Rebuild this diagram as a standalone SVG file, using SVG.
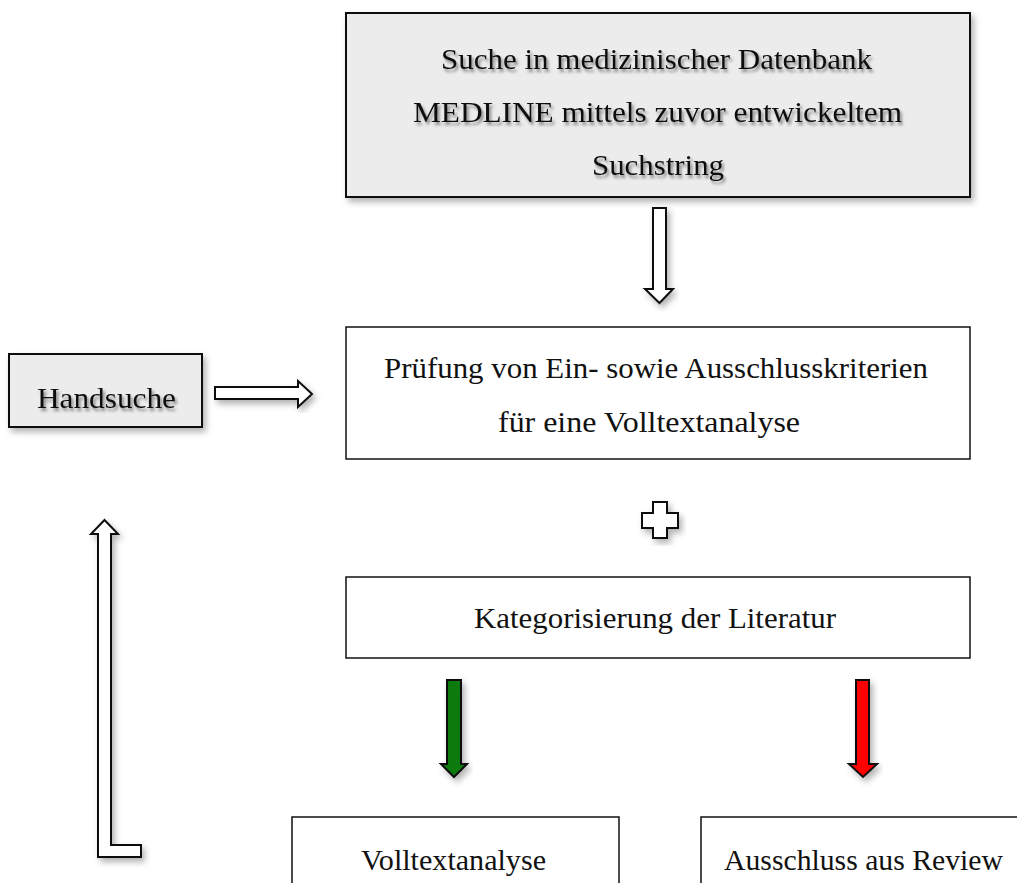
<svg xmlns="http://www.w3.org/2000/svg" width="1017" height="883" viewBox="0 0 1017 883">
<defs>
<filter id="sh" x="-20%" y="-20%" width="140%" height="140%">
<feDropShadow dx="3" dy="4" stdDeviation="3" flood-color="#000" flood-opacity="0.3"/>
</filter>
<filter id="tsh" x="-10%" y="-30%" width="120%" height="160%">
<feDropShadow dx="2" dy="3" stdDeviation="1.8" flood-color="#000" flood-opacity="0.45"/>
</filter>
</defs>
<style>
.t{font-family:"Liberation Serif","Times New Roman",serif;font-size:30px;fill:#111;text-anchor:middle}
.gray{fill:#ececec;stroke:#111;stroke-width:2}
.plain{fill:#fff;stroke:#111;stroke-width:1.5}
.arr{fill:#fff;stroke:#111;stroke-width:2;stroke-linejoin:miter}
</style>
<rect width="1017" height="883" fill="#fff"/>
<g id="node-search">
<rect class="gray" x="346" y="13" width="624" height="184" filter="url(#sh)"/>
<g filter="url(#tsh)">
<text class="t" x="656.5" y="69" textLength="431" lengthAdjust="spacingAndGlyphs">Suche in medizinischer Datenbank</text>
<text class="t" x="657.5" y="122" textLength="489" lengthAdjust="spacingAndGlyphs">MEDLINE mittels zuvor entwickeltem</text>
<text class="t" x="658" y="175" textLength="132" lengthAdjust="spacingAndGlyphs">Suchstring</text>
</g>
</g>
<g id="node-handsuche">
<rect class="gray" x="9" y="354" width="193" height="73" filter="url(#sh)"/>
<text class="t" x="106.5" y="408" textLength="139" lengthAdjust="spacingAndGlyphs" filter="url(#tsh)">Handsuche</text>
</g>
<g id="node-pruefung">
<rect class="plain" x="346" y="327" width="624" height="132"/>
<text class="t" x="656" y="378" textLength="544" lengthAdjust="spacingAndGlyphs">Prüfung von Ein- sowie Ausschlusskriterien</text>
<text class="t" x="649" y="432" textLength="302" lengthAdjust="spacingAndGlyphs">für eine Volltextanalyse</text>
</g>
<g id="node-plus">
<polygon class="arr" points="653,502 667,502 667,513 678,513 678,528 667,528 667,538 653,538 653,528 642,528 642,513 653,513" filter="url(#sh)"/>
</g>
<g id="node-kategorisierung">
<rect class="plain" x="346" y="577" width="624" height="81"/>
<text class="t" x="655" y="628" textLength="362" lengthAdjust="spacingAndGlyphs">Kategorisierung der Literatur</text>
</g>
<g id="node-volltext">
<rect class="plain" x="292" y="817" width="327" height="80"/>
<text class="t" x="453.5" y="870" textLength="185" lengthAdjust="spacingAndGlyphs">Volltextanalyse</text>
</g>
<g id="node-ausschluss">
<rect class="plain" x="701" y="817" width="330" height="80"/>
<text class="t" x="863.5" y="870" textLength="279" lengthAdjust="spacingAndGlyphs">Ausschluss aus Review</text>
</g>
<g id="connectors">
<polygon class="arr" points="653,208 666,208 666,289 673,289 659.5,303 645,289 653,289" filter="url(#sh)"/>
<polygon class="arr" points="215,387 298,387 298,381 312,394 298,407 298,399 215,399" filter="url(#sh)"/>
<polygon class="arr" points="447,680 461,680 461,764 467,764 454,777 441,764 447,764" fill="#0b7a0b" style="fill:#0b7a0b" filter="url(#sh)"/>
<polygon class="arr" points="856,680 869,680 869,764 877,764 863,777 849,764 856,764" style="fill:#ff0000" filter="url(#sh)"/>
<polygon class="arr" points="98,857 141,857 141,845 111,845 111,534 118,534 104.5,520 91,534 98,534" filter="url(#sh)"/>
</g>
</svg>
